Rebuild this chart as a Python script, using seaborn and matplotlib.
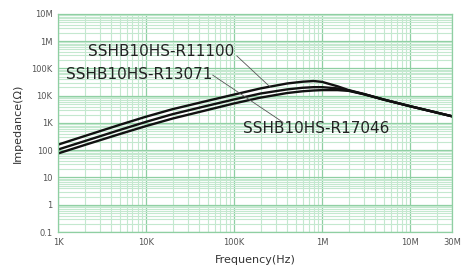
import pandas as pd
import matplotlib
matplotlib.use("Agg")
import matplotlib.pyplot as plt
import matplotlib.ticker as mticker
import seaborn as sns

sns.set_theme(style="white")
plt.rcParams['font.family'] = ['DejaVu Sans']

# frequency points (Hz)
freq = [1e3, 2e3, 5e3, 1e4, 2e4, 5e4, 1e5, 2e5, 4e5, 6e5, 8e5, 1e6,
        1.5e6, 2e6, 3e6, 5e6, 1e7, 2e7, 3e7]

# impedance (ohm) for each part
z_r11100 = [160, 330, 850, 1700, 3200, 6500, 11000, 18500, 28000, 32500,
            34500, 32000, 22000, 16000, 11500, 7200, 4100, 2400, 1750]
z_r13071 = [106, 215, 550, 1100, 2100, 4300, 7300, 12000, 17000, 19500,
            20500, 20500, 18500, 15500, 11300, 7200, 4100, 2400, 1750]
z_r17046 = [76, 155, 390, 770, 1450, 3000, 5200, 8500, 12500, 14500,
            15500, 16000, 16000, 15000, 11200, 7200, 4100, 2400, 1750]

x_ticks = [1e3, 1e4, 1e5, 1e6, 1e7, 3e7]
x_labels = ["1K", "10K", "100K", "1M", "10M", "30M"]
y_ticks = [0.1, 1, 10, 100, 1e3, 1e4, 1e5, 1e6, 1e7]
y_labels = ["0.1", "1", "10", "100", "1K", "10K", "100K", "1M", "10M"]

df = pd.DataFrame({
    "freq": freq * 3,
    "z": z_r11100 + z_r13071 + z_r17046,
    "part": ["SSHB10HS-R11100"] * len(freq) + ["SSHB10HS-R13071"] * len(freq)
            + ["SSHB10HS-R17046"] * len(freq),
})

fig = plt.figure(figsize=(4.72, 2.72), dpi=100)
ax = fig.add_axes([0.123, 0.147, 0.835, 0.802])

ax.set_xscale("log")
ax.set_yscale("log")
ax.set_xlim(1e3, 3e7)
ax.set_ylim(0.1, 1e7)

# green graph-paper grid
ax.xaxis.set_minor_locator(mticker.LogLocator(base=10, subs=range(2, 10)))
ax.yaxis.set_minor_locator(mticker.LogLocator(base=10, subs=range(2, 10)))
ax.grid(which="minor", color="#c4e8cf", linewidth=0.8)
ax.grid(which="major", color="#8fcfa2", linewidth=0.9)
ax.set_axisbelow(True)
for s in ax.spines.values():
    s.set_color("#8fcfa2")
    s.set_linewidth(0.9)

sns.lineplot(data=df, x="freq", y="z", hue="part",
             palette=["#111111"] * 3, linewidth=1.7, legend=False, ax=ax)

ax.set_xticks(x_ticks)
ax.set_xticklabels(x_labels)
ax.set_yticks(y_ticks)
ax.set_yticklabels(y_labels)
ax.xaxis.set_minor_formatter(mticker.NullFormatter())
ax.yaxis.set_minor_formatter(mticker.NullFormatter())
ax.tick_params(which="both", length=0, labelsize=6, colors="#555555", pad=4)

ax.set_xlabel("Frequency(Hz)", fontsize=8, color="#333333", labelpad=6)
ax.set_ylabel("Impedance(Ω)", fontsize=8, color="#333333", labelpad=6)

# part labels with leader lines
lbl = dict(fontsize=11, color="#222222", va="center")
ax.text(2.2e3, 4.0e5, "SSHB10HS-R11100", **lbl)
ax.text(1.23e3, 6.2e4, "SSHB10HS-R13071", **lbl)
ax.text(1.26e5, 630, "SSHB10HS-R17046", **lbl)
ax.plot([1.07e5, 2.6e5], [2.9e5, 2.0e4], color="#555555", linewidth=0.6)
ax.plot([5.7e4, 3.6e5], [5.7e4, 1050], color="#555555", linewidth=0.6)

fig.savefig("out.png", dpi=100)
